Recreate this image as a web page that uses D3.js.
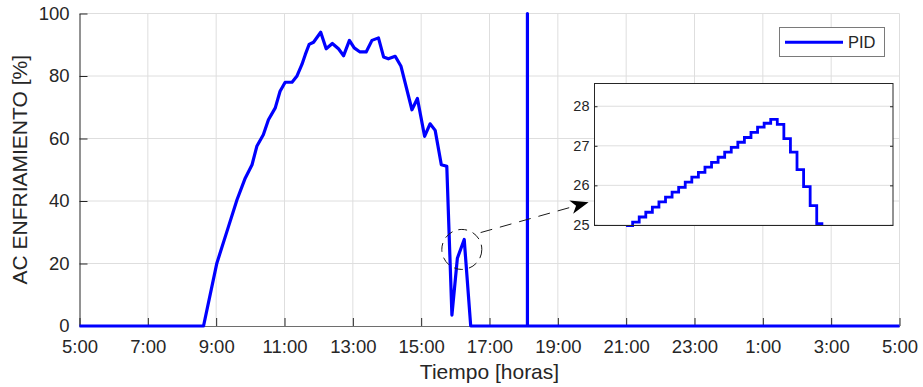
<!DOCTYPE html>
<html>
<head>
<meta charset="utf-8">
<script src="https://cdn.jsdelivr.net/npm/d3@7"></script>
<style>
  body { margin: 0; background: #fff; }
  text { font-family: "Liberation Sans", Arial, Helvetica, sans-serif; fill: #262626; }
</style>
</head>
<body>
<svg id="chart" width="923" height="387"></svg>
<script>
// Hour of day for each sample (values above 24 belong to the next morning)
const hours = [5, 8.63, 9.02, 9.36, 9.61, 9.85, 10.05, 10.19, 10.38, 10.53, 10.73, 10.87,
  11.02, 11.22, 11.36, 11.51, 11.61, 11.72, 11.85, 12.06, 12.22, 12.40, 12.58, 12.73,
  12.90, 13.04, 13.21, 13.39, 13.56, 13.75, 13.90, 14.04, 14.24, 14.41, 14.73, 14.89,
  15.10, 15.26, 15.41, 15.59, 15.75, 15.90, 16.06, 16.26, 16.45, 18.11, 18.11, 18.11, 29];
// Cooling demand of the AC under PID control [%]
const acCooling = [0, 0, 20.1, 31.8, 40.4, 47.3, 51.6, 57.5, 61.2, 66.0, 69.8, 75.1,
  78.0, 78.0, 79.9, 83.7, 86.9, 90.1, 90.8, 94.0, 88.7, 90.4, 88.7, 86.5,
  91.4, 89.0, 87.7, 87.7, 91.4, 92.2, 86.1, 85.5, 86.3, 83.1, 69.2, 72.8,
  60.7, 64.7, 62.6, 51.6, 51.1, 3.5, 21.7, 27.7, 0, 0, 100, 0, 0];

const xTickHours = [5, 7, 9, 11, 13, 15, 17, 19, 21, 23, 25, 27, 29];
const xTickLabels = ["5:00", "7:00", "9:00", "11:00", "13:00", "15:00", "17:00",
  "19:00", "21:00", "23:00", "1:00", "3:00", "5:00"];
const yTicks = [0, 20, 40, 60, 80, 100];

// Detail of the short peak after 16:00, one value per controller step
const zoomValues = [24.95, 25.07, 25.20, 25.32, 25.45, 25.58, 25.70, 25.83, 25.95, 26.08,
  26.21, 26.33, 26.46, 26.58, 26.71, 26.84, 26.96, 27.09, 27.21, 27.34,
  27.47, 27.57, 27.67, 27.54, 27.18, 26.84, 26.40, 25.97, 25.49, 25.03];
const zoomTicks = [25, 26, 27, 28];

const seriesName = "PID";
const xTitle = "Tiempo [horas]";
const yTitle = "AC ENFRIAMIENTO [%]";

const svg = d3.select("#chart");
const BLUE = "#0000ff";
const INK = "#262626";
const GRID = "#dedede";

// ---------- main axes ----------
const plot = { left: 79.5, right: 899.5, top: 13.5, bottom: 326 };
const x = d3.scaleLinear().domain([5, 29]).range([plot.left, plot.right]);
const y = d3.scaleLinear().domain([0, 100]).range([plot.bottom, plot.top]);

// grid
const grid = svg.append("g");
grid.selectAll("line.vx").data(xTickHours.slice(1)).join("line")
  .attr("x1", d => x(d)).attr("x2", d => x(d))
  .attr("y1", plot.top).attr("y2", plot.bottom)
  .attr("stroke", GRID).attr("stroke-width", 1);
grid.selectAll("line.hy").data(yTicks.slice(1)).join("line")
  .attr("x1", plot.left).attr("x2", plot.right)
  .attr("y1", d => y(d)).attr("y2", d => y(d))
  .attr("stroke", GRID).attr("stroke-width", 1);

// x axis (ticks pointing into the plot)
const xAxis = d3.axisBottom(x).tickValues(xTickHours).tickSizeInner(-8).tickSizeOuter(0)
  .tickFormat((d, i) => xTickLabels[i]);
const gx = svg.append("g").attr("transform", `translate(0,${plot.bottom})`).call(xAxis);
gx.select(".domain").attr("stroke", "#6e6e6e");
gx.selectAll(".tick line").attr("stroke", INK);
gx.selectAll(".tick text").attr("font-size", 18.5).attr("fill", INK).attr("y", 14).attr("dy", "0.71em");

// y axis (ticks pointing into the plot)
const yAxis = d3.axisLeft(y).tickValues(yTicks).tickSizeInner(-8).tickSizeOuter(0);
const gy = svg.append("g").attr("transform", `translate(${plot.left},0)`).call(yAxis);
gy.select(".domain").attr("stroke", INK);
gy.selectAll(".tick line").attr("stroke", INK);
gy.selectAll(".tick text").attr("font-size", 18.5).attr("fill", INK).attr("x", -10);

// axis titles
svg.append("text").attr("x", (plot.left + plot.right) / 2).attr("y", 379)
  .attr("text-anchor", "middle").attr("font-size", 21).text(xTitle);
svg.append("text").attr("transform", `translate(26.5,${(plot.top + plot.bottom) / 2}) rotate(-90)`)
  .attr("text-anchor", "middle").attr("font-size", 21).text(yTitle);

// series
const series = hours.map((h, i) => [h, acCooling[i]]);
svg.append("path").datum(series)
  .attr("fill", "none").attr("stroke", BLUE).attr("stroke-width", 3.2)
  .attr("stroke-linejoin", "round")
  .attr("d", d3.line().x(d => x(d[0])).y(d => y(d[1])));

// ---------- callout: circle around the peak and dashed arrow ----------
const circleAt = [16.19, 24.5];
svg.append("circle").attr("cx", x(circleAt[0])).attr("cy", y(circleAt[1])).attr("r", 20)
  .attr("fill", "none").attr("stroke", "#1a1a1a").attr("stroke-width", 1)
  .attr("stroke-dasharray", "9,6");
const arrowFrom = [16.74, 29.9], arrowTo = [19.9, 39.6];
const ax1 = x(arrowFrom[0]), ay1 = y(arrowFrom[1]);
const ax2 = x(arrowTo[0]), ay2 = y(arrowTo[1]);
const ang = Math.atan2(ay2 - ay1, ax2 - ax1);
const headLen = 18;
svg.append("line")
  .attr("x1", ax1).attr("y1", ay1)
  .attr("x2", ax2 - Math.cos(ang) * headLen * 0.7).attr("y2", ay2 - Math.sin(ang) * headLen * 0.7)
  .attr("stroke", "#1a1a1a").attr("stroke-width", 1).attr("stroke-dasharray", "12,8");
svg.append("path")
  .attr("d", "M0,0 L-18,-7 L-13,0 L-18,7 Z")
  .attr("transform", `translate(${ax2},${ay2}) rotate(${ang * 180 / Math.PI})`)
  .attr("fill", "#000");

// ---------- inset ----------
const inset = { left: 594.5, right: 893, top: 83.5, bottom: 225.5 };
const xi = d3.scaleLinear().domain([-4.8, 40.6]).range([inset.left, inset.right]);
const yi = d3.scaleLinear().domain([24.985, 28.575]).range([inset.bottom, inset.top]);
const gi = svg.append("g");
gi.append("rect").attr("x", inset.left).attr("y", inset.top)
  .attr("width", inset.right - inset.left).attr("height", inset.bottom - inset.top)
  .attr("fill", "#fff");
gi.selectAll("line.ig").data(zoomTicks).join("line")
  .attr("x1", inset.left).attr("x2", inset.right)
  .attr("y1", d => yi(d)).attr("y2", d => yi(d))
  .attr("stroke", GRID).attr("stroke-width", 1);

svg.append("clipPath").attr("id", "insetClip").append("rect")
  .attr("x", inset.left).attr("y", inset.top)
  .attr("width", inset.right - inset.left).attr("height", inset.bottom - inset.top + 1.5);
const steps = zoomValues.map((v, i) => [i, v]);
steps.push([zoomValues.length, zoomValues[zoomValues.length - 1]]);
gi.append("path").datum(steps).attr("clip-path", "url(#insetClip)")
  .attr("fill", "none").attr("stroke", BLUE).attr("stroke-width", 2.8)
  .attr("d", d3.line().curve(d3.curveStepAfter).x(d => xi(d[0])).y(d => yi(d[1])));

gi.append("rect").attr("x", inset.left).attr("y", inset.top)
  .attr("width", inset.right - inset.left).attr("height", inset.bottom - inset.top)
  .attr("fill", "none").attr("stroke", INK).attr("stroke-width", 1);
const giy = gi.append("g").attr("transform", `translate(${inset.left},0)`)
  .call(d3.axisLeft(yi).tickValues(zoomTicks).tickFormat(d3.format("d"))
    .tickSizeInner(-3).tickSizeOuter(0));
giy.select(".domain").remove();
giy.selectAll(".tick line").attr("stroke", INK);
giy.selectAll(".tick text").attr("font-size", 14.5).attr("fill", INK).attr("x", -5);
const giy2 = gi.append("g").attr("transform", `translate(${inset.right},0)`)
  .call(d3.axisRight(yi).tickValues(zoomTicks).tickSizeInner(-3).tickSizeOuter(0).tickFormat(""));
giy2.select(".domain").remove();
giy2.selectAll(".tick line").attr("stroke", INK);

// ---------- legend ----------
const lg = svg.append("g");
lg.append("rect").attr("x", 779.5).attr("y", 27.5).attr("width", 105).attr("height", 29)
  .attr("fill", "#fff").attr("stroke", "#7a7a7a").attr("stroke-width", 1);
lg.append("line").attr("x1", 785).attr("x2", 843).attr("y1", 42.3).attr("y2", 42.3)
  .attr("stroke", BLUE).attr("stroke-width", 3);
lg.append("text").attr("x", 848).attr("y", 48.3).attr("font-size", 16.5).text(seriesName);
</script>
</body>
</html>
